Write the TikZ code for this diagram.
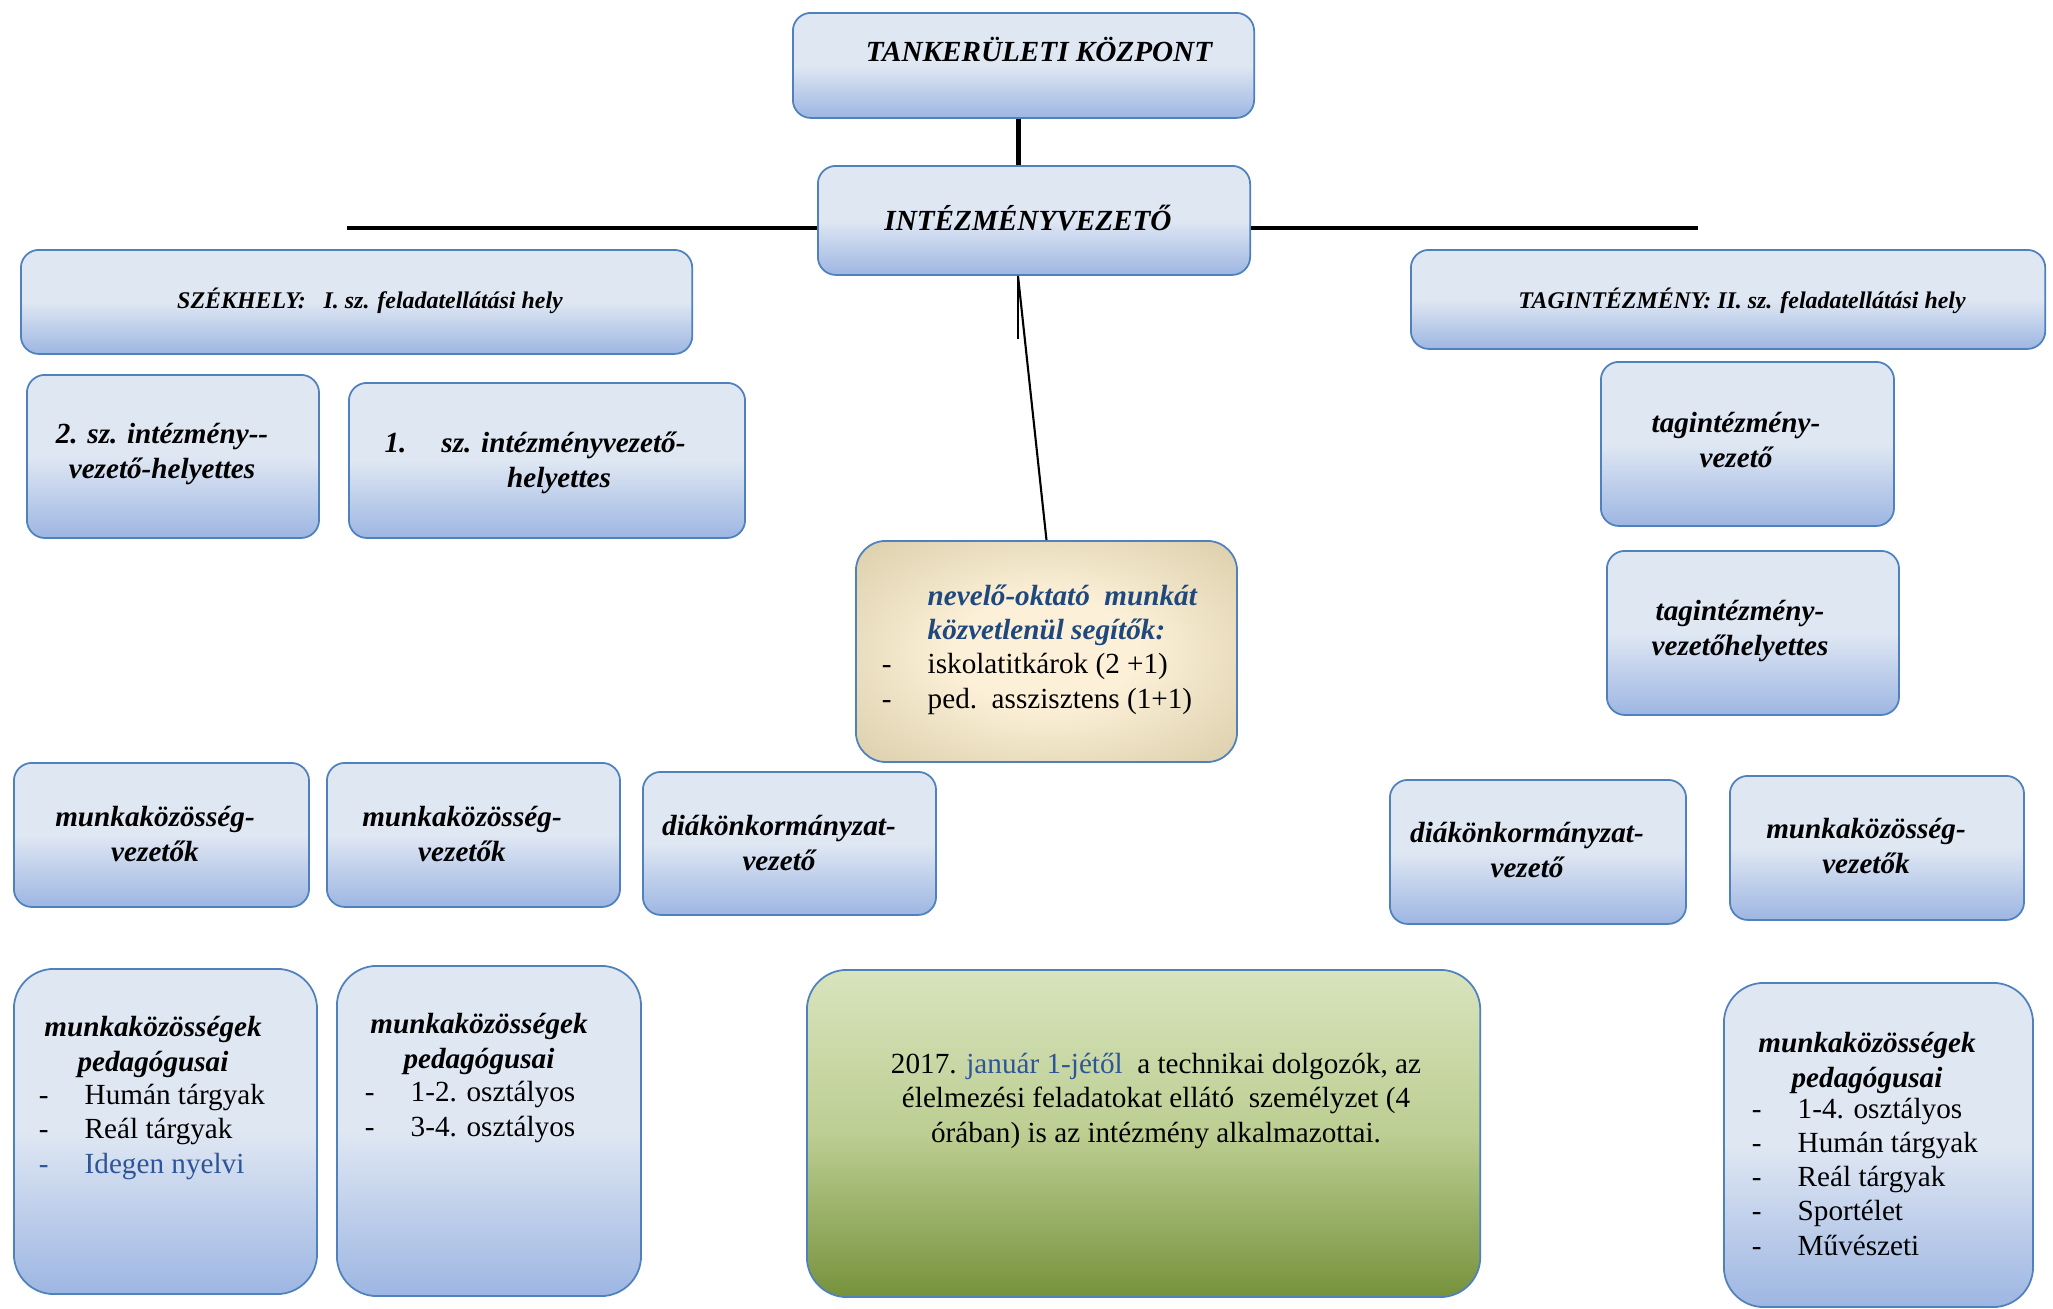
\documentclass[tikz,border=0pt]{standalone}
\usepackage{fontspec}
\setmainfont{Liberation Serif}
\usetikzlibrary{calc}

\definecolor{boxtop}{HTML}{DFE7F3}
\definecolor{boxbot}{HTML}{9DB6E2}
\definecolor{boxline}{HTML}{4F81BD}
\definecolor{navy}{HTML}{1F497D}
\definecolor{linkblue}{HTML}{2E5597}
\definecolor{sandin}{HTML}{FCF0D8}
\definecolor{sandout}{HTML}{D2C59E}
\definecolor{leaftop}{HTML}{D8E4BD}
\definecolor{leafmid}{HTML}{BCCE92}
\definecolor{leafbot}{HTML}{76923C}
\pgfdeclareradialshading{sand}{\pgfpoint{0bp}{0bp}}{color(0bp)=(sandin); color(12bp)=(sandin); color(42bp)=(sandout); color(50bp)=(sandout)}

\newcommand{\itemdash}{\llap{-\hspace{0.36cm}}}
\newcommand{\navytitle}[1]{{\color{navy}\bfseries\itshape #1}}

\begin{document}
\begin{tikzpicture}[x=0.01cm, y=-0.01cm,
    box/.style={draw=boxline, line width=0.5pt, rounded corners=0.18cm, top color=boxtop, bottom color=boxbot, middle color=boxtop, anchor=north west, inner sep=0pt},
    bigbox/.style={box, rounded corners=0.4cm},
    head/.style={font=\fontsize{8.3}{9.7}\selectfont\bfseries\itshape, align=center, anchor=base, inner sep=0pt},
    subhead/.style={head, font=\fontsize{6.8}{8}\selectfont\bfseries\itshape},
    plain/.style={font=\fontsize{8.3}{9.7}\selectfont, align=left, anchor=base west, inner sep=0pt},
    trunk/.style={line width=1.2pt},
    twig/.style={line width=0.6pt}]
    \useasboundingbox (0,0) rectangle (2053,1308);

    \node[box, minimum width=4.61cm, minimum height=1.05cm] (tank) at (792,12) {};
    \node[box, minimum width=4.32cm, minimum height=1.09cm] (int) at (817,165) {};
    \node[box, minimum width=6.71cm, minimum height=1.04cm] (szek) at (20,249) {};
    \node[box, minimum width=6.34cm, minimum height=0.99cm] (tag) at (1410,249) {};
    \node[box, minimum width=2.92cm, minimum height=1.63cm] (hely2) at (26,374) {};
    \node[box, minimum width=3.96cm, minimum height=1.55cm] (hely1) at (348,382) {};
    \node[box, minimum width=2.93cm, minimum height=1.64cm] (tagvez) at (1600,361) {};
    \node[box, minimum width=2.92cm, minimum height=1.64cm] (taghely) at (1606,550) {};
    \node[box, rounded corners=0.3cm, shading=sand, minimum width=3.81cm, minimum height=2.21cm] (nev) at (855,540) {};
    \node[box, minimum width=2.95cm, minimum height=1.44cm] (mkv1) at (13,762) {};
    \node[box, minimum width=2.93cm, minimum height=1.44cm] (mkv2) at (326,762) {};
    \node[box, minimum width=2.93cm, minimum height=1.43cm] (dok1) at (642,771) {};
    \node[box, minimum width=2.96cm, minimum height=1.44cm] (dok2) at (1389,779) {};
    \node[box, minimum width=2.94cm, minimum height=1.44cm] (mkv3) at (1729,775) {};
    \node[bigbox, minimum width=3.03cm, minimum height=3.25cm] (mkp1) at (13,968) {};
    \node[bigbox, minimum width=3.04cm, minimum height=3.30cm] (mkp2) at (336,965) {};
    \node[bigbox, top color=leaftop, bottom color=leafbot, middle color=leafmid, minimum width=6.73cm, minimum height=3.27cm] (note) at (806,969) {};
    \node[bigbox, minimum width=3.09cm, minimum height=3.24cm] (mkp3) at (1723,982) {};

    \coordinate (wl) at (347,228);
    \coordinate (wr) at (1698,228);
    \coordinate (fork) at ([xshift=-0.16cm]int.south);
    \draw[trunk] ([xshift=-0.05cm]tank.south) -- ([xshift=-0.05cm]tank.south |- int.north);
    \draw[trunk] (wl) -- (wl -| int.west);
    \draw[trunk] (int.east |- wr) -- (wr);
    \draw[twig] (fork) -- ++(0,63);
    \draw[twig] (fork) -- (nev.north);

    \node[head] (tanktxt) at (1039,61) {TANKERÜLETI KÖZPONT};
    \node[head] (inttxt) at (1028,230) {INTÉZMÉNYVEZETŐ};
    \node[subhead] (szektxt) at (370,308) {SZÉKHELY:\ \ \ I. sz. feladatellátási hely};
    \node[subhead] (tagtxt) at (1742,308) {TAGINTÉZMÉNY: II. sz. feladatellátási hely};
    \node[head] (hely2txt) at (162,478) {2. sz. intézmény-{}-\\vezető-helyettes};
    \node[head] (hely1txt) at (535,487) {1.\hspace{1.2em}sz. intézményvezető-\\\hspace*{1.65em}helyettes};
    \node[head] (tagveztxt) at (1736,467) {tagintézmény-\\vezető};
    \node[head] (taghelytxt) at (1740,655) {tagintézmény-\\vezetőhelyettes};

    \node[plain] (nevtxt) at (927,708) {\navytitle{nevelő-oktató\ \ munkát}\\\navytitle{közvetlenül segítők:}\\\itemdash iskolatitkárok (2 +1)\\\itemdash ped.\ \ asszisztens (1+1)};

    \node[head] (mkv1txt) at (155,861) {munkaközösség-\\vezetők};
    \node[head] (mkv2txt) at (462,861) {munkaközösség-\\vezetők};
    \node[head] (dok1txt) at (779,870) {diákönkormányzat-\\vezető};
    \node[head] (dok2txt) at (1527,877) {diákönkormányzat-\\vezető};
    \node[head] (mkv3txt) at (1866,873) {munkaközösség-\\vezetők};

    \node[head] (mkp1txt) at (153,1071) {munkaközösségek\\pedagógusai};
    \node[plain] (mkp1list) at (84,1173) {\itemdash Humán tárgyak\\\itemdash Reál tárgyak\\{\color{linkblue}\itemdash Idegen nyelvi}};
    \node[head] (mkp2txt) at (479,1068) {munkaközösségek\\pedagógusai};
    \node[plain] (mkp2list) at (410,1136) {\itemdash 1-2. osztályos\\\itemdash 3-4. osztályos};
    \node[head] (mkp3txt) at (1867,1087) {munkaközösségek\\pedagógusai};
    \node[plain] (mkp3list) at (1797,1255) {\itemdash 1-4. osztályos\\\itemdash Humán tárgyak\\\itemdash Reál tárgyak\\\itemdash Sportélet\\\itemdash Művészeti};

    \node[head, font=\fontsize{8.3}{9.7}\selectfont] (notetxt) at (1156,1142) {2017. {\color{linkblue}január 1-jétől}\ \ a technikai dolgozók, az\\élelmezési feladatokat ellátó\ \ személyzet (4\\órában) is az intézmény alkalmazottai.};
\end{tikzpicture}
\end{document}
